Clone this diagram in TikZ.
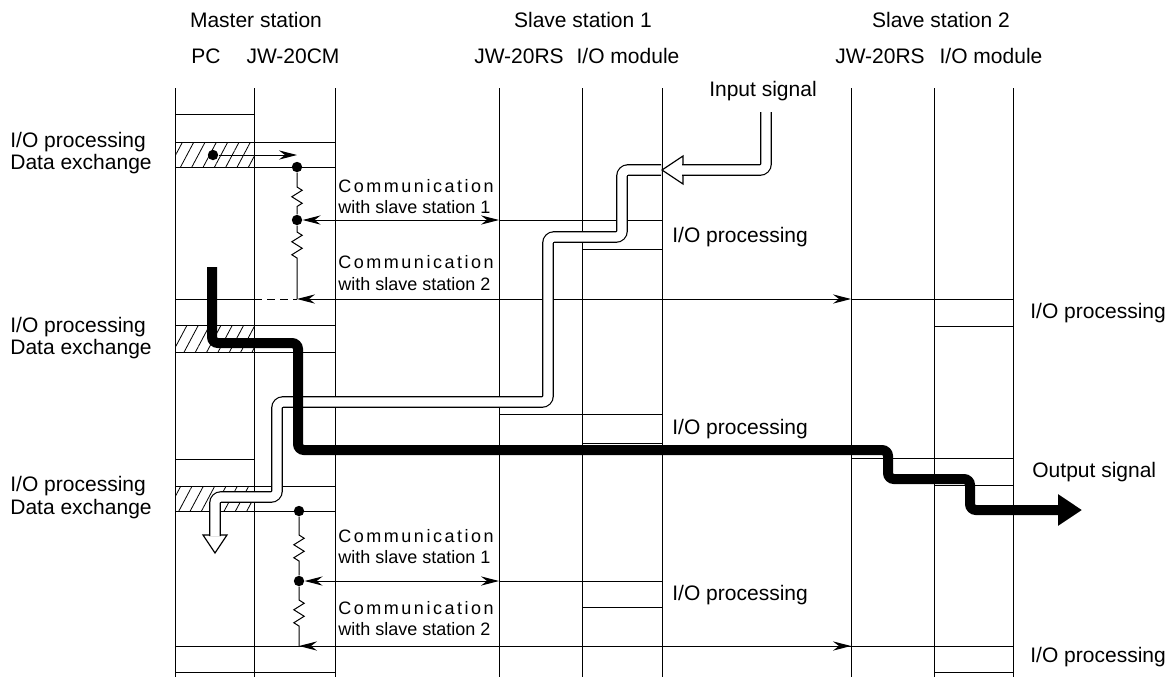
\documentclass[tikz,border=0pt]{standalone}
\usepackage{fontspec}
\setmainfont{Liberation Sans}
\usepackage{tikz}
\usetikzlibrary{arrows.meta, patterns.meta, decorations.pathmorphing}

\begin{document}
\begin{tikzpicture}[x=0.5pt, y=-0.5pt,
  gridline/.style={line width=0.5pt},
  hatch/.style={pattern={Lines[angle=62, distance=5pt, line width=0.4pt]}},
  comm/.style={line width=0.5pt, >={Stealth[length=9pt, width=4.6pt, inset=3pt]}},
  zz/.style={decoration={zigzag, segment length=6.5pt, amplitude=2.6pt}},
  dot/.style={circle, fill=black, inner sep=0pt, minimum size=5.2pt},
  inwire/.style={double=white, double distance=4.6pt, line width=0.6pt, rounded corners=3pt},
  inhead/.style={fill=white, line width=0.6pt, line join=miter},
  outwire/.style={line width=5pt, rounded corners=3pt, -{Triangle[length=12pt, width=15pt]}},
  head/.style={anchor=base, inner sep=0pt, font=\fontsize{10.5}{12}\selectfont},
  lbl/.style={anchor=base west, inner sep=0pt, font=\fontsize{10.5}{12}\selectfont},
  commlbl/.style={anchor=base west, inner sep=0pt, font=\fontsize{9}{11}\selectfont},
  spaced/.style={commlbl, font=\fontsize{9}{11}\selectfont\addfontfeatures{LetterSpace=14}}]

  \pgfmathsetmacro{\xa}{175};
  \pgfmathsetmacro{\xb}{254};
  \pgfmathsetmacro{\xc}{335};
  \pgfmathsetmacro{\xd}{499};
  \pgfmathsetmacro{\xe}{582};
  \pgfmathsetmacro{\xf}{662};
  \pgfmathsetmacro{\xg}{851};
  \pgfmathsetmacro{\xh}{934};
  \pgfmathsetmacro{\xj}{1013};

  \useasboundingbox (0, 0) rectangle (1173, 677);

  \fill[hatch] (\xa, 142) rectangle (\xb, 167);
  \fill[hatch] (\xa, 325) rectangle (\xb, 352);
  \fill[hatch] (\xa, 486) rectangle (\xb, 511);

  \foreach \cx in {\xa, \xb, \xc, \xd, \xe, \xf, \xg, \xh, \xj}
    \draw[gridline] (\cx, 88) -- (\cx, 677);

  \draw[gridline] (\xa, 114) -- (\xb, 114);
  \draw[gridline] (\xa, 459) -- (\xb, 459);
  \draw[gridline] (\xa, 299) -- (\xb, 299);
  \draw[gridline] (\xa, 646) -- (\xj, 646);
  \foreach \cy in {142, 167, 325, 352, 486, 511, 672}
    \draw[gridline] (\xa, \cy) -- (\xc, \cy);
  \foreach \cy in {220, 414, 581}
    \draw[gridline] (\xd, \cy) -- (\xf, \cy);
  \foreach \cy in {249, 443, 607}
    \draw[gridline] (\xe, \cy) -- (\xf, \cy);
  \foreach \cy in {299, 458}
    \draw[gridline] (\xg, \cy) -- (\xj, \cy);
  \foreach \cy in {326, 485, 672}
    \draw[gridline] (\xh, \cy) -- (\xj, \cy);

  \node[dot] (pcA) at (213, 155) {};
  \node[dot] (cmA) at (297, 167) {};
  \node[dot] (cmB) at (297, 220) {};
  \node[dot] (cmD) at (299, 511) {};
  \node[dot] (cmE) at (299, 581) {};
  \coordinate (cmT) at (297, 155);
  \coordinate (cmC) at (297, 299);
  \coordinate (cmF) at (299, 646);
  \coordinate (pcB) at (\xb, 299);
  \coordinate (rsA) at (\xd, 220);
  \coordinate (rsB) at (\xg, 299);
  \coordinate (rsC) at (\xd, 581);
  \coordinate (rsD) at (\xg, 646);

  \draw[comm, ->] (pcA) -- (cmT);
  \draw[comm] (cmA) -- ++(0, 20) decorate[zz] { -- ++(0, 20) } -- (cmB);
  \draw[comm] (cmB) -- ++(0, 12) decorate[zz] { -- ++(0, 30) } -- (cmC);
  \draw[comm] (cmD) -- ++(0, 24) decorate[zz] { -- ++(0, 30) } -- (cmE);
  \draw[comm] (cmE) -- ++(0, 19) decorate[zz] { -- ++(0, 30) } -- (cmF);
  \draw[comm, dash pattern=on 4pt off 2.5pt] (pcB) -- (cmC);
  \draw[comm, <->] (cmB) -- (rsA);
  \draw[comm, <->] (cmC) -- (rsB);
  \draw[comm, <->] (cmE) -- (rsC);
  \draw[comm, <->] (cmF) -- (rsD);

  \coordinate (inS) at (766, 112);
  \coordinate (inT) at (662, 170);
  \coordinate (inU) at (661, 170);
  \coordinate (inD) at (215, 553);
  \draw[inhead] (inT) -- ++(21, -14) -- ++(0, 28) -- cycle;
  \draw[inhead] (inD) -- ++(-12, -18) -- ++(24, 0) -- cycle;
  \draw[inwire] (inS) -- (766, 170) -- (682, 170);
  \draw[inwire] (inU) -- (622, 170) -- (622, 237) -- (548, 237) -- (548, 402)
    -- (277, 402) -- (277, 497) -- (215, 497) -- (215, 536);

  \coordinate (outS) at (212, 267);
  \coordinate (outE) at (1082, 510);
  \draw[outwire] (outS) -- (212, 343) -- (298, 343) -- (298, 450) -- (888, 450)
    -- (888, 479) -- (970, 479) -- (970, 510) -- (outE);

  \node[head] (msH) at (256, 27) { Master station };
  \node[head] (s1H) at (583, 27) { Slave station 1 };
  \node[head] (s2H) at (941, 27) { Slave station 2 };
  \node[head] (pcH) at (206, 63) { PC };
  \node[head] (cmH) at (293, 63) { JW-20CM };
  \node[head] (rs1H) at (519, 63) { JW-20RS };
  \node[head] (io1H) at (628, 63) { I/O module };
  \node[head] (rs2H) at (880, 63) { JW-20RS };
  \node[head] (io2H) at (991, 63) { I/O module };
  \node[head] (inH) at (763, 96) { Input signal };

  \node[lbl] (ioL1) at (10, 147) { I/O processing };
  \node[lbl] (dxL1) at (10, 169) { Data exchange };
  \node[lbl] (ioL2) at (10, 332) { I/O processing };
  \node[lbl] (dxL2) at (10, 354) { Data exchange };
  \node[lbl] (ioL3) at (10, 491) { I/O processing };
  \node[lbl] (dxL3) at (10, 514) { Data exchange };

  \node[lbl] (ioM1) at (672, 242) { I/O processing };
  \node[lbl] (ioM2) at (672, 434) { I/O processing };
  \node[lbl] (ioM3) at (672, 600) { I/O processing };
  \node[lbl] (ioR1) at (1030, 318) { I/O processing };
  \node[lbl] (outR) at (1032, 477) { Output signal };
  \node[lbl] (ioR2) at (1030, 662) { I/O processing };

  \node[spaced] (cmL1) at (338, 192) { Communication };
  \node[commlbl] (wsL1) at (338, 213) { with slave station 1 };
  \node[spaced] (cmL2) at (338, 268) { Communication };
  \node[commlbl] (wsL2) at (338, 290) { with slave station 2 };
  \node[spaced] (cmL3) at (338, 542) { Communication };
  \node[commlbl] (wsL3) at (338, 563) { with slave station 1 };
  \node[spaced] (cmL4) at (338, 614) { Communication };
  \node[commlbl] (wsL4) at (338, 635) { with slave station 2 };

\end{tikzpicture}
\end{document}
